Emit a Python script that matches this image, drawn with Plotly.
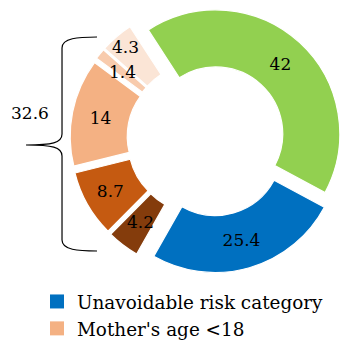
import math
import plotly.graph_objects as go

# ---------------- data ----------------
labels = ["Other risk categories", "Unavoidable risk category", "Risk factor A",
          "Risk factor B", "Mother's age <18", "Risk factor C", "Risk factor D"]
values = [42, 25.4, 4.2, 8.7, 14, 1.4, 4.3]
colors = ["#92D050", "#0070C0", "#843C0C", "#C55A11", "#F4B183", "#F8CBAD", "#FBE5D6"]
bracket_label = "32.6"
bracket_members = [2, 3, 4, 5, 6]          # slices grouped by the brace
legend_labels = ["Unavoidable risk category", "Mother's age <18"]
legend_colors = ["#0070C0", "#F4B183"]

# ---------------- geometry / style ----------------
W, H = 340, 347
ROT = -33                    # first slice starts here (deg, clockwise from 12 o'clock)
R = 124.0                    # outer radius (px)
CX, CY = 212.0, 138.0        # ring centre (px)
HOLE = 0.54
FONT = "DejaVu Serif"
TXT = 17
explode = [5.6, 11.0, 10, 10, 10, 10, 10]   # radial explosion per slice (px)
GROUP_SHIFT = 8.0                           # extra shift of the bracketed group (px)
small_label_r = {2: 0.77, 5: 0.77, 6: 0.89}  # slices labelled outside the library text

total = sum(values)


def bisector(i):
    mid = sum(values[:i]) + values[i] / 2
    return math.radians(ROT + 360 * mid / total)


def unit(a):
    return math.sin(a), -math.cos(a)


g_s = sum(values[:bracket_members[0]])
g_e = sum(values[:bracket_members[-1] + 1])
g_dir = unit(math.radians(ROT + 360 * (g_s + g_e) / 2 / total))

fig = go.Figure()
annotations = []
for i in range(len(values)):
    ux, uy = unit(bisector(i))
    cx = CX + explode[i] * ux
    cy = CY + explode[i] * uy
    if i in bracket_members:
        cx += GROUP_SHIFT * g_dir[0]
        cy += GROUP_SHIFT * g_dir[1]
    own = [j == i for j in range(len(values))]
    lib_text = i not in small_label_r
    fig.add_trace(go.Pie(
        labels=labels, values=values, sort=False, direction="clockwise",
        rotation=ROT, hole=HOLE,
        marker=dict(colors=[c if o else "rgba(0,0,0,0)" for c, o in zip(colors, own)],
                    line=dict(color="white", width=[1.2 if o else 0 for o in own])),
        text=["%g" % v if (o and lib_text) else "" for v, o in zip(values, own)],
        textinfo="text",
        textposition=["inside" if (o and lib_text) else "none" for o in own],
        insidetextorientation="horizontal",
        textfont=dict(family=FONT, size=TXT, color="black"),
        domain=dict(x=[max(0, (cx - R) / W), min(1, (cx + R) / W)],
                    y=[max(0, 1 - (cy + R) / H), min(1, 1 - (cy - R) / H)]),
        showlegend=False, hoverinfo="skip",
    ))
    if not lib_text:
        rr = small_label_r[i] * R
        annotations.append(dict(text="%g" % values[i], xref="paper", yref="paper",
                                x=(cx + rr * ux) / W, y=1 - (cy + rr * uy) / H,
                                showarrow=False, xanchor="center", yanchor="middle",
                                font=dict(family=FONT, size=TXT, color="black")))

for name, col in zip(legend_labels, legend_colors):
    fig.add_trace(go.Scatter(x=[None], y=[None], mode="markers", name=name,
                             marker=dict(symbol="square", size=14, color=col),
                             legendgroup=name))


def p(x, y):
    return "%.4f,%.4f" % (x / W, 1 - y / H)


brace = ("M " + p(97, 37) + " C " + p(78, 37) + " " + p(62, 38) + " " + p(62, 48) +
         " L " + p(62, 134) + " C " + p(62, 143) + " " + p(52, 145) + " " + p(26, 145) +
         " C " + p(52, 145) + " " + p(62, 147) + " " + p(62, 156) +
         " L " + p(62, 240) + " C " + p(62, 250) + " " + p(78, 251) + " " + p(97, 251))

annotations.append(dict(text=bracket_label, xref="paper", yref="paper",
                        x=30 / W, y=1 - 113 / H, showarrow=False,
                        xanchor="center", yanchor="middle",
                        font=dict(family=FONT, size=TXT, color="black")))

fig.update_layout(
    width=W, height=H, margin=dict(l=0, r=0, t=0, b=0, autoexpand=False),
    paper_bgcolor="white", plot_bgcolor="white",
    xaxis=dict(visible=False), yaxis=dict(visible=False),
    uniformtext=dict(minsize=TXT, mode="show"),
    shapes=[dict(type="path", xref="paper", yref="paper", path=brace,
                 line=dict(color="black", width=1.2))],
    annotations=annotations,
    legend=dict(x=37 / W, y=0, xanchor="left", yanchor="bottom",
                font=dict(family=FONT, size=18.4, color="black"),
                bgcolor="rgba(0,0,0,0)", tracegroupgap=0, traceorder="normal"),
)

fig.write_html("out.html")
